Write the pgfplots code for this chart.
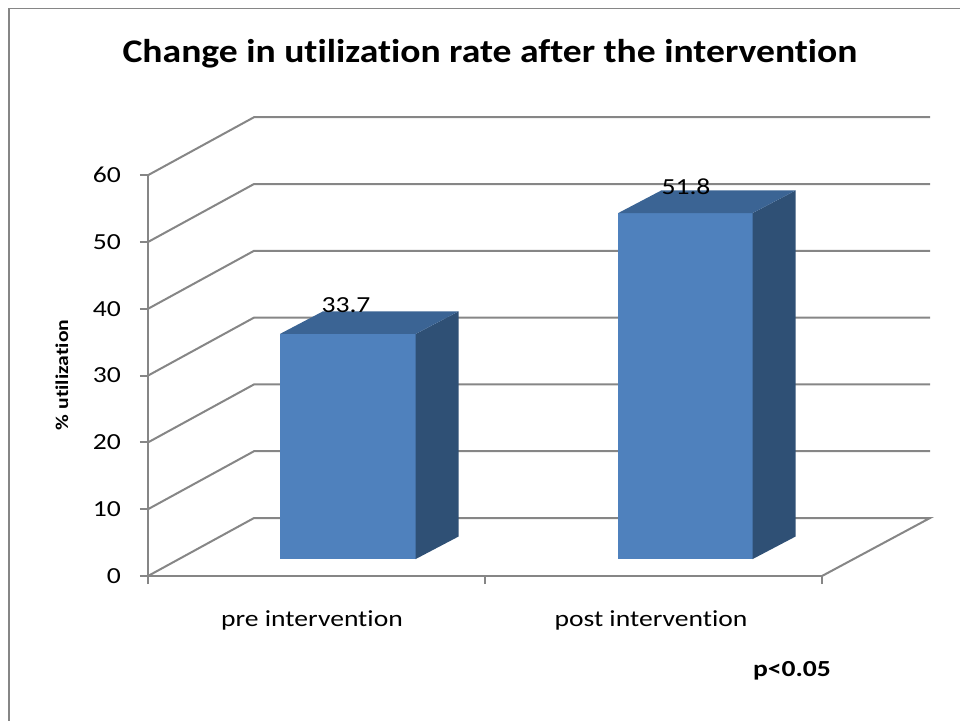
\documentclass[border=0pt]{standalone}
\usepackage{pgfplots}
\pgfplotsset{compat=1.18}
\usepackage{fontspec}
\setmainfont{Carlito}[FakeStretch=1.2, Ligatures=NoCommon]
\newfontfamily\titlefont{Carlito}[FakeStretch=1.14, Ligatures=NoCommon]
\definecolor{gridc}{HTML}{868686}
\definecolor{frontc}{HTML}{4F81BD}
\definecolor{topc}{HTML}{3B6494}
\definecolor{sidec}{HTML}{2F5075}
% values
\def\vpre{33.7}
\def\vpost{51.8}
\def\base{2.54}
\def\ddy{3.38}
\pgfmathsetmacro\tpre{\base+\vpre}
\pgfmathsetmacro\tpreb{\tpre+\ddy}
\pgfmathsetmacro\tpost{\base+\vpost}
\pgfmathsetmacro\tpostb{\tpost+\ddy}
\pgfmathsetmacro\bb{\base+\ddy}
\begin{document}
\begin{tikzpicture}
\useasboundingbox (0,0) rectangle (480pt,360pt);
\draw[color=gridc, line width=0.8pt] (4.5pt,-5pt) -- (4.5pt,355.8pt) -- (485pt,355.8pt);
\node[font=\titlefont\bfseries\fontsize{16.5}{20}\selectfont] at (245pt,333pt) {Change in utilization rate after the intervention};
\node[font=\bfseries\fontsize{9}{11}\selectfont, rotate=90] at (31pt,172.5pt) {\% utilization};
\node[font=\bfseries\fontsize{11.5}{13}\selectfont] at (396pt,24.5pt) {p<0.05};
\begin{axis}[
  at={(74pt,72pt)}, anchor=south west,
  x=0.5pt, y=3.34pt,
  xmin=0, xmax=674, ymin=0, ymax=60,
  clip=false,
  axis x line*=bottom, axis y line*=left,
  axis line style={-, color=gridc, line width=1pt},
  tick style={color=gridc, line width=1pt},
  tick align=outside, major tick length=4pt,
  xtick={0,337,674}, xticklabels={},
  ytick={0,10,...,60},
  yticklabel style={font=\fontsize{11.5}{13}\selectfont, xshift=-6pt},
  /pgf/number format/assume math mode=true,
]
% back wall and floor gridlines
\addplot[gridc, line width=1pt] coordinates {(0,0) (106,8.68) (782,8.68) (674,0)};
\addplot[gridc, line width=1pt] coordinates {(0,10) (106,18.68) (782,18.68)};
\addplot[gridc, line width=1pt] coordinates {(0,20) (106,28.68) (782,28.68)};
\addplot[gridc, line width=1pt] coordinates {(0,30) (106,38.68) (782,38.68)};
\addplot[gridc, line width=1pt] coordinates {(0,40) (106,48.68) (782,48.68)};
\addplot[gridc, line width=1pt] coordinates {(0,50) (106,58.68) (782,58.68)};
\addplot[gridc, line width=1pt] coordinates {(0,60) (106,68.68) (782,68.68)};
% pre intervention bar
\addplot[fill=frontc, draw=none] coordinates {(132,\base) (267.7,\base) (267.7,\tpre) (132,\tpre)} --cycle;
\addplot[fill=sidec, draw=none] coordinates {(267.7,\base) (310.7,\bb) (310.7,\tpreb) (267.7,\tpre)} --cycle;
\addplot[fill=topc, draw=none] coordinates {(132,\tpre) (175,\tpreb) (310.7,\tpreb) (267.7,\tpre)} --cycle;
% post intervention bar
\addplot[fill=frontc, draw=none] coordinates {(470.3,\base) (604.7,\base) (604.7,\tpost) (470.3,\tpost)} --cycle;
\addplot[fill=sidec, draw=none] coordinates {(604.7,\base) (647.7,\bb) (647.7,\tpostb) (604.7,\tpost)} --cycle;
\addplot[fill=topc, draw=none] coordinates {(470.3,\tpost) (513.3,\tpostb) (647.7,\tpostb) (604.7,\tpost)} --cycle;
% data labels
\node[font=\fontsize{11.5}{13}\selectfont] at (axis cs:198,40.6) {33.7};
\node[font=\fontsize{11.5}{13}\selectfont] at (axis cs:538,58.2) {51.8};
% category labels
\node[font=\fontsize{11.5}{13}\selectfont] at (axis cs:164,-6.6) {pre intervention};
\node[font=\fontsize{11.5}{13}\selectfont] at (axis cs:503,-6.6) {post intervention};
\end{axis}
\end{tikzpicture}
\end{document}
